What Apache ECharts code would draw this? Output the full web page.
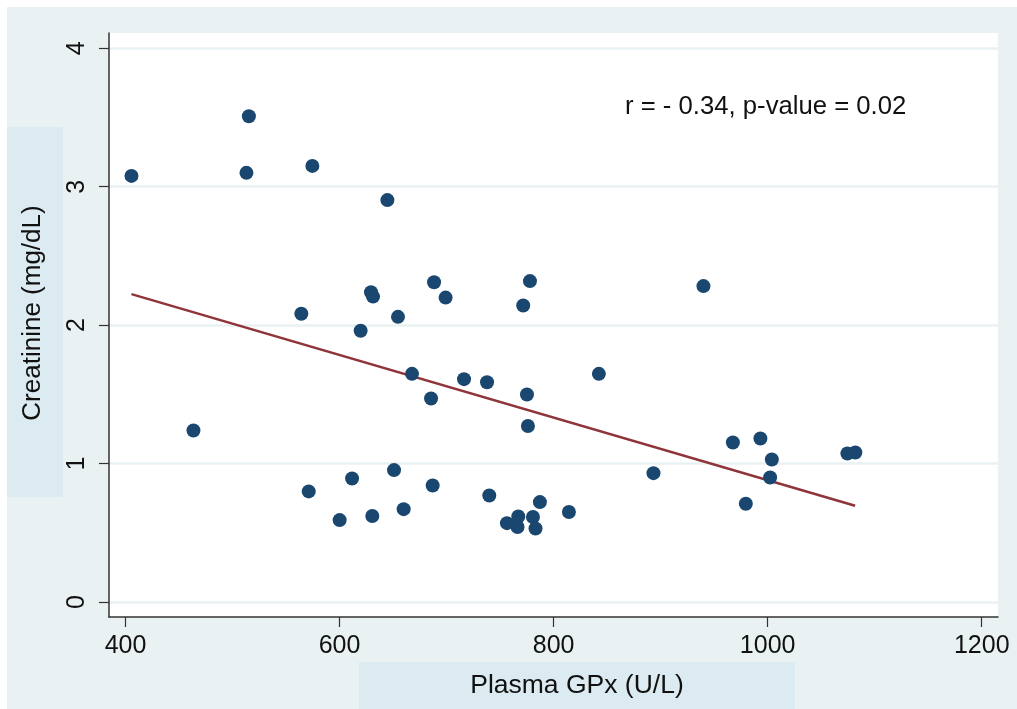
<!DOCTYPE html>
<html><head><meta charset="utf-8">
<script src="https://cdn.jsdelivr.net/npm/echarts@6/dist/echarts.min.js"></script>
<style>html,body{margin:0;padding:0;background:#fff}#c{width:1017px;height:709px}</style>
</head><body><div id="c"></div>
<script>
const gpx = [405.6, 463.5, 515.3, 513.0, 574.6, 564.3, 571.2, 600.1, 611.7, 619.7,
  629.4, 631.3, 630.6, 644.7, 650.9, 654.6, 659.9, 667.7, 685.5, 688.3,
  687.0, 699.1, 716.3, 737.8, 739.9, 756.4, 767.0, 766.3, 771.6, 777.9,
  775.1, 776.0, 780.7, 783.1, 787.2, 814.3, 842.3, 893.3, 940.0, 967.5,
  979.6, 993.2, 1003.9, 1002.3, 1074.5, 1081.9];
const creatinine = [3.078, 1.239, 3.509, 3.100, 3.150, 2.082, 0.799, 0.592, 0.892, 1.959,
  2.238, 2.206, 0.621, 2.903, 0.953, 2.060, 0.671, 1.648, 1.470, 2.310,
  0.842, 2.199, 1.610, 1.588, 0.770, 0.570, 0.618, 0.542, 2.142, 2.318,
  1.499, 1.271, 0.614, 0.531, 0.722, 0.650, 1.648, 0.931, 2.282, 1.152,
  0.710, 1.181, 1.030, 0.900, 1.073, 1.080];
const fitX = [405.6, 1081.7];
const fitY = [2.224, 0.695];
const xTicks = [400, 600, 800, 1000, 1200];
const yTicks = [0, 1, 2, 3, 4];
const xTitle = 'Plasma GPx (U/L)';
const yTitle = 'Creatinine (mg/dL)';
const note = 'r = - 0.34, p-value = 0.02';

const FONT = '"Liberation Sans", Arial, Helvetica, sans-serif';
const chart = echarts.init(document.getElementById('c'), null, {renderer: 'canvas'});
chart.setOption({
  animation: false,
  backgroundColor: '#ffffff',
  textStyle: {fontFamily: FONT},
  graphic: [
    {type: 'rect', z: -10, silent: true, shape: {x: 7, y: 7, width: 1010, height: 702}, style: {fill: '#eaf1f3'}},
    {type: 'rect', z: 1, silent: true, shape: {x: 7, y: 127, width: 56, height: 370}, style: {fill: '#dbebf1'}},
    {type: 'text', z: 2, silent: true, x: 33, y: 313, rotation: Math.PI / 2,
      style: {text: yTitle, font: '26px ' + FONT, fill: '#111', align: 'center', verticalAlign: 'middle'}},
    {type: 'rect', z: 1, silent: true, shape: {x: 359, y: 662, width: 436, height: 47}, style: {fill: '#dbebf1'}},
    {type: 'text', z: 2, silent: true, x: 577, y: 686,
      style: {text: xTitle, font: '26.5px ' + FONT, fill: '#111', align: 'center', verticalAlign: 'middle'}},
    {type: 'text', z: 20, silent: true, x: 625, y: 107,
      style: {text: note, font: '25.7px ' + FONT, fill: '#111', align: 'left', verticalAlign: 'middle'}}
  ],
  grid: {left: 109, right: 19, top: 33, bottom: 92, show: true, backgroundColor: '#ffffff', borderWidth: 0, z: 0},
  xAxis: {
    type: 'value', min: 384.6, max: 1215.2,
    axisLine: {show: true, onZero: false, lineStyle: {color: '#333', width: 1.5}},
    axisTick: {show: true, length: 10, customValues: xTicks, lineStyle: {color: '#333', width: 1.2}},
    axisLabel: {customValues: xTicks, margin: 17, fontSize: 25, color: '#111', fontFamily: FONT,
      formatter: v => String(v)},
    splitLine: {show: false}
  },
  yAxis: {
    type: 'value', min: -0.108, max: 4.11,
    axisLine: {show: true, onZero: false, lineStyle: {color: '#333', width: 1.5}},
    axisTick: {show: true, length: 10, customValues: yTicks, lineStyle: {color: '#333', width: 1.2}},
    axisLabel: {customValues: yTicks, margin: 19, fontSize: 25, rotate: 90, color: '#111', fontFamily: FONT,
      formatter: v => String(v)},
    splitLine: {show: true, lineStyle: {color: '#eaf1f3', width: 2.5}}
  },
  series: [
    {type: 'line', data: fitX.map((x, i) => [x, fitY[i]]), symbol: 'none', z: 3,
      lineStyle: {color: '#8f3439', width: 2.5}},
    {type: 'scatter', data: gpx.map((x, i) => [x, creatinine[i]]), symbol: 'circle', symbolSize: 14, z: 4,
      itemStyle: {color: '#1a476f', opacity: 1}}
  ]
});
</script></body></html>
